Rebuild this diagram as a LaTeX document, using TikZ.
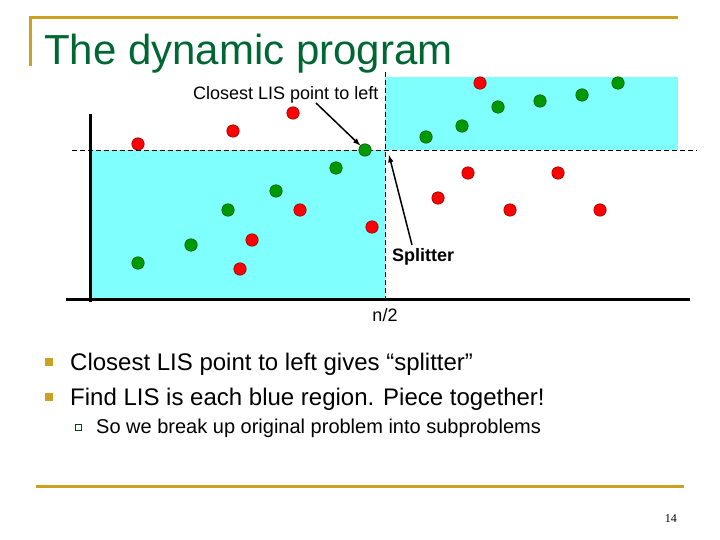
\documentclass[tikz,border=0pt]{standalone}
\usepackage{fontspec}
\setmainfont{Liberation Sans}
\newfontfamily\numfont{Liberation Serif}
\usetikzlibrary{calc}
\definecolor{gold}{RGB}{204,160,32}
\definecolor{titlegreen}{RGB}{0,102,51}
\definecolor{regionblue}{RGB}{128,255,255}
\definecolor{dotred}{RGB}{255,0,0}
\definecolor{dotgreen}{RGB}{0,153,0}

\begin{document}
\begin{tikzpicture}[x=1pt, y=-1pt,
    rdot/.style={circle, fill=dotred, draw=red!50!black, line width=0.5pt, minimum size=12.5pt, inner sep=0pt},
    gdot/.style={circle, fill=dotgreen, draw=green!30!black, line width=0.5pt, minimum size=12.5pt, inner sep=0pt},
    goldline/.style={gold, line width=3pt},
    sep/.style={dashed, dash pattern=on 5pt off 3pt, line width=0.7pt}]
        \useasboundingbox (0,0) rectangle (720,540);

        % Draw the slide frame lines
        \draw[goldline] (30,66) -- (30,18) -- (678,18);
        \draw[goldline] (36,486) -- (684,486);
        \node[anchor=base west, inner sep=0pt, text=titlegreen, font=\fontsize{42}{48}\selectfont] (title) at (44,65) {The dynamic program};

        % Draw the two blue regions
        \fill[regionblue] (90,150) rectangle (385,299);
        \fill[regionblue] (385,77) rectangle (678,150);

        % Draw the dashed split lines
        \draw[sep] (72,150) -- (697,150);
        \draw[sep] (385,72) -- (385,299);

        % Draw the coordinate axes
        \draw[line width=3pt] (90,114) -- (90,302);
        \draw[line width=3pt] (66,299) -- (690,299);

        % Mark the points
        \foreach \x/\y [count=\i] in {138/144, 233/131, 293/113, 480/83, 300/210, 252/240, 240/269, 372/227, 438/198, 468/173, 510/210, 558/173, 600/210}
            \node[rdot] (r\i) at (\x,\y) {};
        \foreach \x/\y [count=\i] in {365/150, 336/168, 276/191, 228/210, 191/245, 138/263, 426/137, 462/126, 498/107, 540/101, 582/95, 618/83}
            \node[gdot] (g\i) at (\x,\y) {};

        % Labels and arrows
        \node[anchor=base west, inner sep=0pt, font=\fontsize{18}{20}\selectfont] (lisl) at (193,100) {Closest LIS point to left};
        \coordinate (lisend) at (316,103);
        \draw[->, >=latex, line width=1.5pt] (lisend) -- (g1);

        \node[anchor=base west, inner sep=0pt, font=\bfseries\fontsize{18}{20}\selectfont] (splitl) at (392,261) {Splitter};
        \coordinate (splitend) at (412,245);
        \coordinate (cross) at (389,155);
        \draw[->, >=latex, line width=1.5pt] (splitend) -- (cross);

        \node[anchor=base, inner sep=0pt, font=\fontsize{18}{20}\selectfont] (half) at (385,321) {n/2};

        % Bullet points
        \fill[gold] (45,358) rectangle (53,366);
        \fill[gold] (45,393) rectangle (53,401);
        \node[anchor=base west, inner sep=0pt, font=\fontsize{24}{28}\selectfont] (b1) at (70,370) {Closest LIS point to left gives “splitter”};
        \node[anchor=base west, inner sep=0pt, font=\fontsize{24}{28}\selectfont] (b2) at (70,405) {Find LIS is each blue region. Piece together!};
        \draw[green!30!black, line width=0.7pt] (75,424) rectangle (81,430);
        \node[anchor=base west, inner sep=0pt, font=\fontsize{20}{24}\selectfont] (b3) at (96,433) {So we break up original problem into subproblems};

        % Page number
        \node[anchor=base east, inner sep=0pt, font=\numfont\fontsize{12}{14}\selectfont] (page) at (677,522) {14};
    \end{tikzpicture}
\end{document}
